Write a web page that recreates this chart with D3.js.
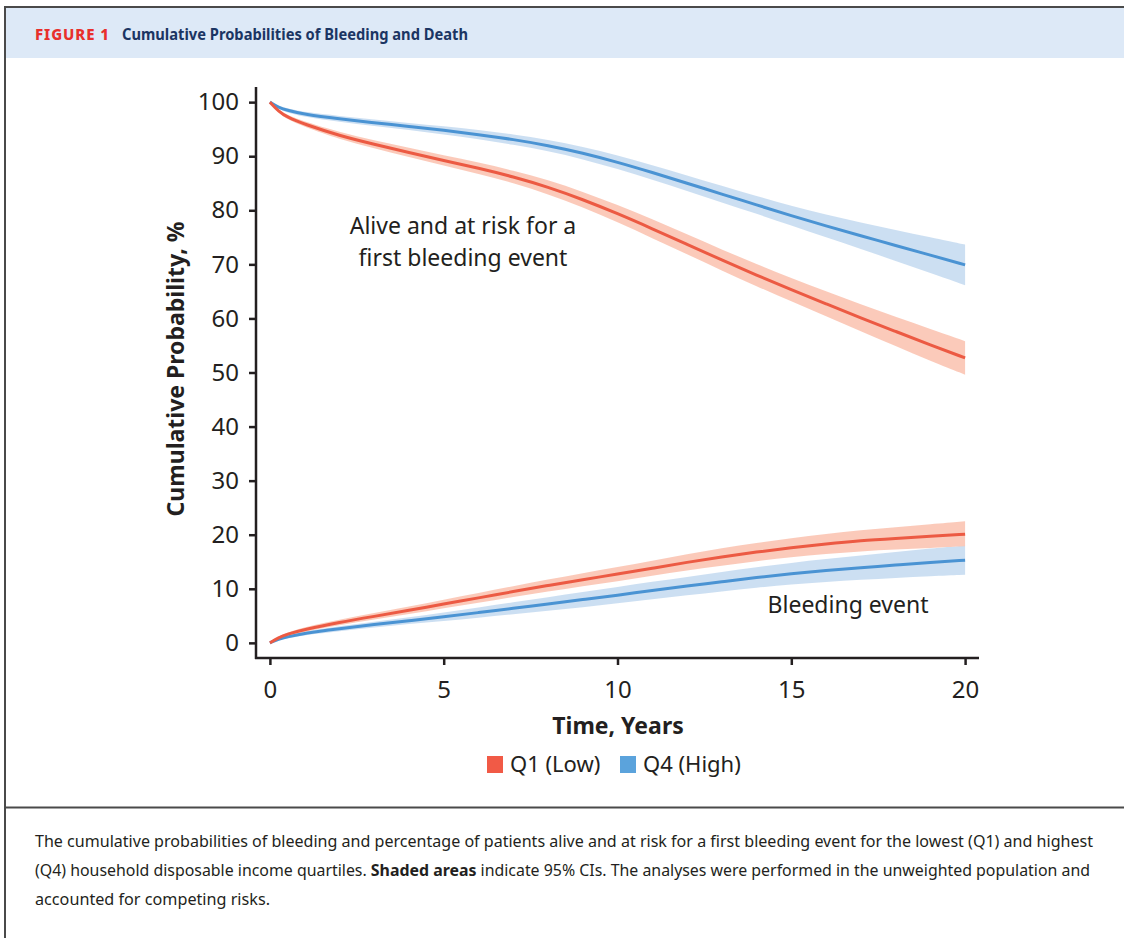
<!DOCTYPE html>
<html>
<head>
<meta charset="utf-8">
<script src="https://cdn.jsdelivr.net/npm/d3@7"></script>
<style>
  html, body { margin: 0; padding: 0; background: #fff; }
  svg { display: block; }
  text { font-family: "Noto Sans", "Open Sans", sans-serif; fill: #231f20; }
</style>
</head>
<body>
<svg id="chart" width="1124" height="938"></svg>
<script>
// ---- data ----
const time = [0, 0.25, 0.5, 1, 2, 3, 4, 5, 6, 7, 8, 9, 10, 11, 12, 13, 14, 15, 16, 17, 18, 19, 20];

const aliveQ1   = [100, 98.3, 97.2, 95.9, 93.8, 92.2, 90.7, 89.2, 87.8, 86.2, 84.3, 82.0, 79.4, 76.6, 73.7, 70.8, 68.0, 65.3, 62.7, 60.1, 57.6, 55.1, 52.7];
const aliveQ1Lo = [100, 98.0, 96.8, 95.4, 93.15, 91.45, 89.85, 88.25, 86.75, 85.05, 83.0, 80.55, 77.8, 74.85, 71.85, 68.85, 65.95, 63.15, 60.4, 57.6, 54.9, 52.15, 49.6];
const aliveQ1Hi = [100, 98.6, 97.6, 96.4, 94.45, 92.95, 91.55, 90.15, 88.85, 87.35, 85.6, 83.45, 81.0, 78.35, 75.55, 72.75, 70.05, 67.45, 65.0, 62.6, 60.3, 58.05, 55.8];

const aliveQ4   = [100, 99.0, 98.5, 97.7, 96.9, 96.2, 95.5, 94.8, 94.0, 93.1, 92.0, 90.6, 88.9, 87.0, 85.0, 83.0, 81.0, 79.0, 77.1, 75.3, 73.5, 71.7, 69.9];
const aliveQ4Lo = [100, 98.7, 98.1, 97.25, 96.35, 95.6, 94.85, 94.05, 93.15, 92.15, 90.95, 89.45, 87.65, 85.65, 83.55, 81.45, 79.35, 77.2, 75.0, 72.85, 70.65, 68.4, 66.15];
const aliveQ4Hi = [100, 99.3, 98.9, 98.15, 97.45, 96.8, 96.15, 95.55, 94.85, 94.05, 93.05, 91.75, 90.15, 88.35, 86.45, 84.55, 82.65, 80.8, 79.2, 77.75, 76.35, 75.0, 73.65];

const bleedQ1   = [0, 1.0, 1.6, 2.5, 3.8, 4.9, 6.0, 7.2, 8.3, 9.5, 10.6, 11.7, 12.7, 13.8, 14.9, 15.9, 16.8, 17.6, 18.3, 18.9, 19.3, 19.7, 20.1];
const bleedQ1Lo = [0, 0.8, 1.3, 2.1, 3.3, 4.3, 5.3, 6.4, 7.4, 8.5, 9.5, 10.5, 11.4, 12.4, 13.4, 14.3, 15.1, 15.85, 16.45, 16.95, 17.25, 17.55, 17.85];
const bleedQ1Hi = [0, 1.2, 1.9, 2.9, 4.3, 5.5, 6.7, 8.0, 9.2, 10.5, 11.7, 12.9, 14.0, 15.2, 16.4, 17.5, 18.5, 19.35, 20.15, 20.85, 21.4, 21.95, 22.5];

const bleedQ4   = [0, 0.7, 1.1, 1.8, 2.6, 3.4, 4.1, 4.8, 5.6, 6.4, 7.2, 8.0, 8.8, 9.7, 10.5, 11.3, 12.1, 12.8, 13.4, 13.9, 14.4, 14.9, 15.3];
const bleedQ4Lo = [0, 0.5, 0.8, 1.45, 2.15, 2.85, 3.5, 4.0, 4.65, 5.3, 5.95, 6.6, 7.3, 8.1, 8.8, 9.5, 10.2, 10.8, 11.3, 11.65, 12.0, 12.35, 12.6];
const bleedQ4Hi = [0, 0.9, 1.4, 2.15, 3.05, 3.95, 4.7, 5.6, 6.55, 7.5, 8.45, 9.4, 10.3, 11.3, 12.2, 13.1, 14.0, 14.8, 15.5, 16.15, 16.8, 17.45, 18.0];

const xTicks = [0, 5, 10, 15, 20];
const yTicks = [0, 10, 20, 30, 40, 50, 60, 70, 80, 90, 100];
const legendLabels = ["Q1 (Low)", "Q4 (High)"];

const captionLines = [
  [{t: "The cumulative probabilities of bleeding and percentage of patients alive and at risk for a first bleeding event for the lowest (Q1) and highest", b: false}],
  [{t: "(Q4) household disposable income quartiles. ", b: false}, {t: "Shaded areas", b: true}, {t: " indicate 95% CIs. The analyses were performed in the unweighted population and", b: false}],
  [{t: "accounted for competing risks.", b: false}]
];

// ---- styles ----
const RED = "#ec5a43", RED_BAND = "#fbc5b4";
const BLUE = "#4a93d3", BLUE_BAND = "#c8dcf1";
const RED_KEY = "#f15a46", BLUE_KEY = "#5ba3dc";

const svg = d3.select("#chart");

// frame & header
svg.append("rect").attr("x", 6).attr("y", 8).attr("width", 1118).attr("height", 50).attr("fill", "#dde9f7");
svg.append("line").attr("x1", 5).attr("x2", 1124).attr("y1", 7).attr("y2", 7).attr("stroke", "#4a4a4a").attr("stroke-width", 2);
svg.append("line").attr("x1", 5).attr("x2", 5).attr("y1", 6).attr("y2", 938).attr("stroke", "#4a4a4a").attr("stroke-width", 2);
svg.append("line").attr("x1", 5).attr("x2", 1124).attr("y1", 807.5).attr("y2", 807.5).attr("stroke", "#4a4a4a").attr("stroke-width", 2);

svg.append("text").attr("x", 35).attr("y", 40)
  .style("font-size", "15px").style("font-weight", "800").style("letter-spacing", "0.9px")
  .style("fill", "#e8302c").text("FIGURE 1");
svg.append("text").attr("x", 122).attr("y", 40)
  .attr("textLength", 346).attr("lengthAdjust", "spacingAndGlyphs")
  .style("font-size", "16.5px").style("font-weight", "700").style("fill", "#1b3563")
  .text("Cumulative Probabilities of Bleeding and Death");

// scales
const x = d3.scaleLinear().domain([-0.4, 20.4]).range([256, 979]);
const y = d3.scaleLinear().domain([-2.8, 102.8]).range([658, 87]);

function series(v, lo, hi) { return time.map((t, i) => ({t, v: v[i], lo: lo[i], hi: hi[i]})); }
const groups = [
  {d: series(aliveQ4, aliveQ4Lo, aliveQ4Hi), c: BLUE, b: BLUE_BAND},
  {d: series(bleedQ4, bleedQ4Lo, bleedQ4Hi), c: BLUE, b: BLUE_BAND},
  {d: series(aliveQ1, aliveQ1Lo, aliveQ1Hi), c: RED, b: RED_BAND},
  {d: series(bleedQ1, bleedQ1Lo, bleedQ1Hi), c: RED, b: RED_BAND}
];

const area = d3.area().curve(d3.curveBasis).x(d => x(d.t)).y0(d => y(d.lo)).y1(d => y(d.hi));
const line = d3.line().curve(d3.curveBasis).x(d => x(d.t)).y(d => y(d.v));

svg.append("g").selectAll("path").data(groups).join("path")
  .attr("d", g => area(g.d)).attr("fill", g => g.b).attr("opacity", 0.92);
svg.append("g").selectAll("path").data(groups).join("path")
  .attr("d", g => line(g.d)).attr("fill", "none").attr("stroke", g => g.c).attr("stroke-width", 3);

// axes
const xAxis = d3.axisBottom(x).tickValues(xTicks).tickSize(7).tickSizeOuter(0).tickPadding(16).tickFormat(d3.format("d"));
const yAxis = d3.axisLeft(y).tickValues(yTicks).tickSize(7).tickSizeOuter(0).tickPadding(10).tickFormat(d3.format("d"));

const gx = svg.append("g").attr("transform", "translate(0,658)").call(xAxis);
const gy = svg.append("g").attr("transform", "translate(256,0)").call(yAxis);
[gx, gy].forEach(g => {
  g.selectAll("path.domain").attr("stroke", "#231f20").attr("stroke-width", 2.5);
  g.selectAll(".tick line").attr("stroke", "#231f20").attr("stroke-width", 2.5);
  g.selectAll(".tick text").style("font-family", "'Noto Sans', sans-serif").style("font-size", "24px").style("fill", "#231f20");
});
gy.select("path.domain").attr("d", "M0,87V659");
gx.select("path.domain").attr("d", "M255,0H979");

// axis titles
svg.append("text").attr("transform", "translate(184,369) rotate(-90)").attr("text-anchor", "middle")
  .style("font-size", "23px").style("font-weight", "700").text("Cumulative Probability, %");
svg.append("text").attr("x", 618).attr("y", 734).attr("text-anchor", "middle")
  .style("font-size", "23px").style("font-weight", "700").text("Time, Years");

// annotations
svg.append("text").attr("x", 463).attr("y", 234).attr("text-anchor", "middle")
  .style("font-size", "23px").text("Alive and at risk for a");
svg.append("text").attr("x", 463).attr("y", 266).attr("text-anchor", "middle")
  .style("font-size", "23px").text("first bleeding event");
svg.append("text").attr("x", 848).attr("y", 613).attr("text-anchor", "middle")
  .style("font-size", "23px").text("Bleeding event");

// legend
const legendPos = [{sx: 487, tx: 510, c: RED_KEY}, {sx: 620, tx: 643, c: BLUE_KEY}];
legendLabels.forEach((lab, i) => {
  const p = legendPos[i];
  svg.append("rect").attr("x", p.sx).attr("y", 756).attr("width", 16).attr("height", 17).attr("fill", p.c);
  svg.append("text").attr("x", p.tx).attr("y", 772).style("font-size", "22px").text(lab);
});

// caption
const capWidths = [1058, 1055, 235];
captionLines.forEach((parts, i) => {
  const t = svg.append("text").attr("x", 35).attr("y", 847 + i * 29)
    .attr("textLength", capWidths[i]).attr("lengthAdjust", "spacingAndGlyphs")
    .style("font-size", "15.5px");
  parts.forEach(p => t.append("tspan").style("font-weight", p.b ? "700" : "400").text(p.t));
});
</script>
</body>
</html>
